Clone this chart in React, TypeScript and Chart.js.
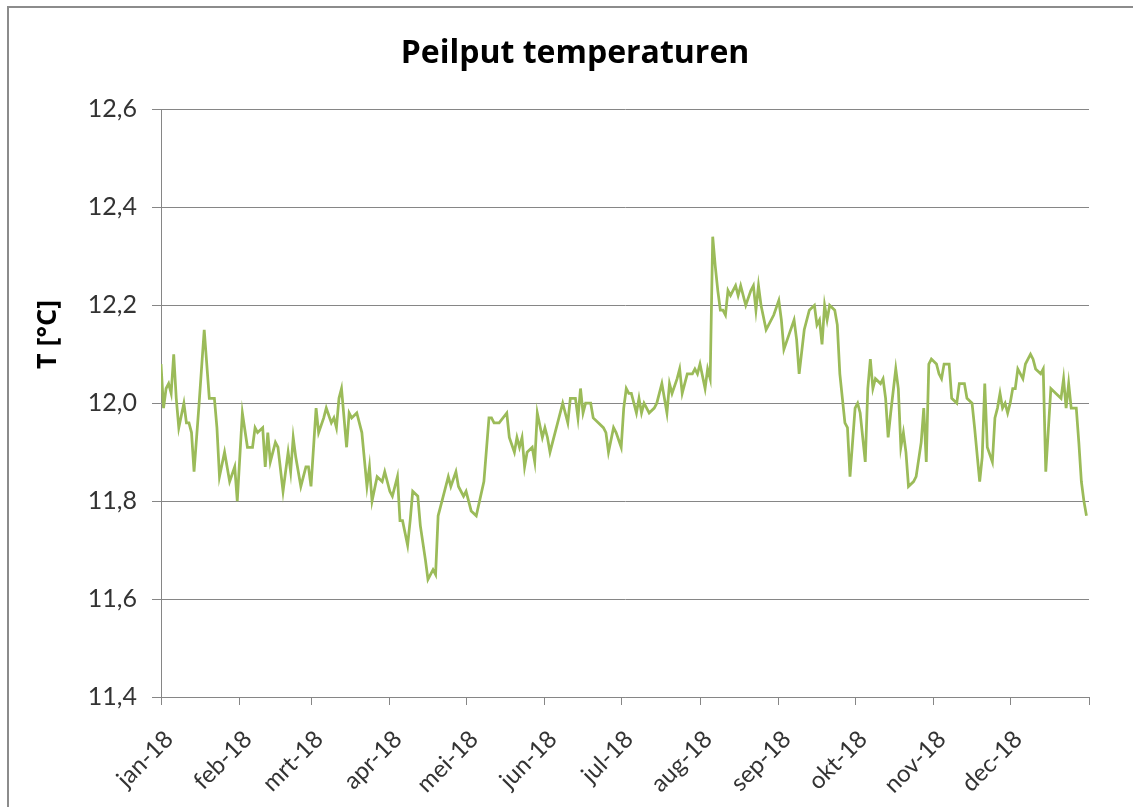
import React, { useEffect, useRef } from 'react';
import { Chart, registerables } from 'chart.js';

Chart.register(...registerables);

const monthLabels = ['jan-18', 'feb-18', 'mrt-18', 'apr-18', 'mei-18', 'jun-18', 'jul-18', 'aug-18', 'sep-18', 'okt-18', 'nov-18', 'dec-18', ''];
const monthStarts = [0, 31, 59, 90, 120, 151, 181, 212, 243, 273, 304, 334, 365];
const yTicks = [11.4, 11.6, 11.8, 12.0, 12.2, 12.4, 12.6];
const yTitle = 'T [°C]';
const chartTitle = 'Peilput temperaturen';

const days = [0, 1, 2, 3, 4, 5, 6, 7, 9, 10, 11, 12, 13, 15, 17, 19, 21, 22, 23, 25, 27, 29, 30, 32, 34, 36, 37, 38, 40, 41, 42, 43, 45, 46, 48, 50, 51, 52, 53, 55, 57, 58, 59, 61, 62, 64, 65, 67, 68, 69, 70, 71, 73, 74, 75, 77, 79, 81, 82, 83, 85, 87, 88, 90, 91, 93, 94, 95, 97, 98, 99, 101, 102, 104, 105, 107, 108, 109, 110, 113, 114, 116, 117, 119, 120, 122, 124, 127, 129, 130, 131, 133, 136, 137, 139, 140, 141, 142, 143, 144, 146, 147, 148, 150, 151, 152, 153, 155, 156, 158, 160, 161, 163, 164, 165, 166, 167, 169, 170, 172, 174, 175, 176, 178, 179, 181, 182, 183, 184, 185, 187, 188, 189, 190, 192, 194, 195, 197, 199, 200, 201, 203, 204, 205, 207, 209, 210, 211, 212, 214, 215, 216, 217, 218, 219, 220, 221, 222, 223, 224, 226, 227, 228, 230, 232, 233, 234, 235, 236, 238, 239, 241, 243, 244, 245, 247, 249, 250, 251, 253, 255, 257, 258, 259, 260, 261, 262, 263, 265, 266, 267, 269, 270, 271, 273, 274, 275, 277, 278, 279, 280, 281, 283, 284, 285, 286, 287, 289, 290, 291, 292, 293, 294, 296, 297, 299, 300, 301, 302, 303, 305, 306, 307, 308, 310, 311, 313, 314, 316, 317, 319, 320, 322, 323, 324, 325, 327, 328, 329, 330, 331, 332, 333, 334, 335, 336, 337, 339, 340, 342, 343, 344, 346, 347, 348, 350, 352, 354, 355, 356, 357, 358, 360, 361, 362, 363, 364];

const temps = [12.08, 11.99, 12.03, 12.04, 12.02, 12.10, 12.01, 11.95, 12.00, 11.96, 11.96, 11.94, 11.86, 12.00, 12.15, 12.01, 12.01, 11.95, 11.85, 11.90, 11.84, 11.87, 11.80, 11.98, 11.91, 11.91, 11.95, 11.94, 11.95, 11.87, 11.94, 11.88, 11.92, 11.91, 11.82, 11.90, 11.86, 11.93, 11.89, 11.83, 11.87, 11.87, 11.83, 11.99, 11.94, 11.97, 11.99, 11.96, 11.97, 11.95, 12.01, 12.03, 11.91, 11.98, 11.97, 11.98, 11.94, 11.83, 11.87, 11.80, 11.85, 11.84, 11.86, 11.82, 11.81, 11.85, 11.76, 11.76, 11.71, 11.76, 11.82, 11.81, 11.75, 11.68, 11.64, 11.66, 11.65, 11.77, 11.79, 11.85, 11.83, 11.86, 11.83, 11.81, 11.82, 11.78, 11.77, 11.84, 11.97, 11.97, 11.96, 11.96, 11.98, 11.93, 11.90, 11.93, 11.91, 11.93, 11.87, 11.90, 11.91, 11.88, 11.98, 11.93, 11.95, 11.93, 11.90, 11.94, 11.96, 12.00, 11.96, 12.01, 12.01, 11.97, 12.03, 11.98, 12.00, 12.00, 11.97, 11.96, 11.95, 11.94, 11.90, 11.95, 11.94, 11.91, 11.99, 12.03, 12.02, 12.02, 11.98, 12.01, 11.98, 12.00, 11.98, 11.99, 12.00, 12.04, 11.98, 12.04, 12.02, 12.05, 12.07, 12.02, 12.06, 12.06, 12.07, 12.06, 12.08, 12.03, 12.07, 12.05, 12.34, 12.28, 12.23, 12.19, 12.19, 12.18, 12.23, 12.22, 12.24, 12.22, 12.24, 12.20, 12.23, 12.24, 12.19, 12.24, 12.20, 12.15, 12.16, 12.18, 12.21, 12.17, 12.11, 12.14, 12.17, 12.13, 12.06, 12.15, 12.19, 12.20, 12.16, 12.17, 12.12, 12.20, 12.17, 12.20, 12.19, 12.16, 12.06, 11.96, 11.95, 11.85, 11.99, 12.00, 11.98, 11.88, 12.03, 12.09, 12.03, 12.05, 12.04, 12.05, 12.01, 11.93, 11.98, 12.07, 12.03, 11.91, 11.94, 11.90, 11.83, 11.84, 11.85, 11.92, 11.99, 11.88, 12.08, 12.09, 12.08, 12.06, 12.05, 12.08, 12.08, 12.01, 12.00, 12.04, 12.04, 12.01, 12.00, 11.95, 11.84, 11.89, 12.04, 11.91, 11.88, 11.97, 11.99, 12.02, 11.99, 12.00, 11.98, 12.00, 12.03, 12.03, 12.07, 12.05, 12.08, 12.10, 12.09, 12.07, 12.06, 12.07, 11.86, 12.03, 12.02, 12.01, 12.05, 11.99, 12.04, 11.99, 11.99, 11.92, 11.84, 11.80, 11.77];

const FONT = 'Lato, "Open Sans", sans-serif';
const TITLE_FONT = '"Open Sans", Lato, sans-serif';

const yTitlePlugin = {
  id: 'yTitleLeft',
  afterDraw(chart: any) {
    const ctx = chart.ctx as CanvasRenderingContext2D;
    const a = chart.chartArea;
    ctx.save();
    ctx.translate(48, a.top + (a.bottom - a.top) * 0.383);
    ctx.rotate(-Math.PI / 2);
    ctx.font = `bold 27px ${TITLE_FONT}`;
    ctx.fillStyle = '#000';
    ctx.textAlign = 'center';
    ctx.textBaseline = 'middle';
    ctx.fillText(yTitle, 0, 0);
    ctx.restore();
  },
};

export default function App() {
  const ref = useRef<HTMLCanvasElement>(null);

  useEffect(() => {
    const chart = new Chart(ref.current as HTMLCanvasElement, {
      type: 'line',
      data: {
        datasets: [
          {
            data: days.map((d, i) => ({ x: d, y: temps[i] })),
            borderColor: '#9BBB59',
            borderWidth: 2.75,
            pointRadius: 0,
            tension: 0,
            fill: false,
          },
        ],
      },
      plugins: [yTitlePlugin],
      options: {
        responsive: false,
        animation: false,
        layout: { padding: { left: 7, right: 7, top: 0, bottom: 0 } },
        plugins: {
          legend: { display: false },
          tooltip: { enabled: false },
          title: {
            display: true,
            text: chartTitle,
            color: '#000',
            font: { family: TITLE_FONT, size: 32, weight: 'bold' },
            padding: { top: 35, bottom: 36 },
          },
        },
        scales: {
          x: {
            type: 'linear',
            min: 0,
            max: 365,
            afterBuildTicks: (s: any) => {
              s.ticks = monthStarts.map((v) => ({ value: v }));
            },
            afterFit: (s: any) => {
              s.height = 110;
            },
            ticks: {
              autoSkip: false,
              minRotation: 45,
              maxRotation: 45,
              padding: 20,
              labelOffset: 8,
              color: '#333',
              font: { family: FONT, size: 24 },
              callback: (_v: any, i: number) => monthLabels[i],
            },
            grid: { drawOnChartArea: false, drawTicks: true, tickLength: 8, color: '#868686' },
            border: { color: '#868686', width: 1 },
          },
          y: {
            min: 11.4,
            max: 12.6,
            afterBuildTicks: (s: any) => {
              s.ticks = yTicks.map((v) => ({ value: v }));
            },
            afterFit: (s: any) => {
              s.width = 154;
            },
            ticks: {
              padding: 15,
              color: '#333',
              font: { family: FONT, size: 25 },
              callback: (v: any) => Number(v).toFixed(1).replace('.', ','),
            },
            grid: { color: '#868686', tickLength: 9, lineWidth: 1 },
            border: { color: '#868686', width: 1 },
          },
          y2: {
            type: 'linear',
            position: 'right',
            display: true,
            afterFit: (s: any) => {
              s.width = 54;
            },
            grid: { display: false },
            ticks: { display: false },
            border: { display: false },
          },
        },
      },
    });
    return () => chart.destroy();
  }, []);

  return (
    <div style={{ position: 'absolute', left: 0, top: 0, width: 1133, height: 807, overflow: 'hidden', background: '#fff' }}>
      <canvas ref={ref} width={1150} height={807} style={{ display: 'block', width: 1150, height: 807 }} />
      <div
        style={{
          position: 'absolute',
          left: 7,
          top: 6,
          width: 1200,
          height: 900,
          borderLeft: '2px solid #8c8c8c',
          borderTop: '2px solid #8c8c8c',
          pointerEvents: 'none',
        }}
      />
    </div>
  );
}
